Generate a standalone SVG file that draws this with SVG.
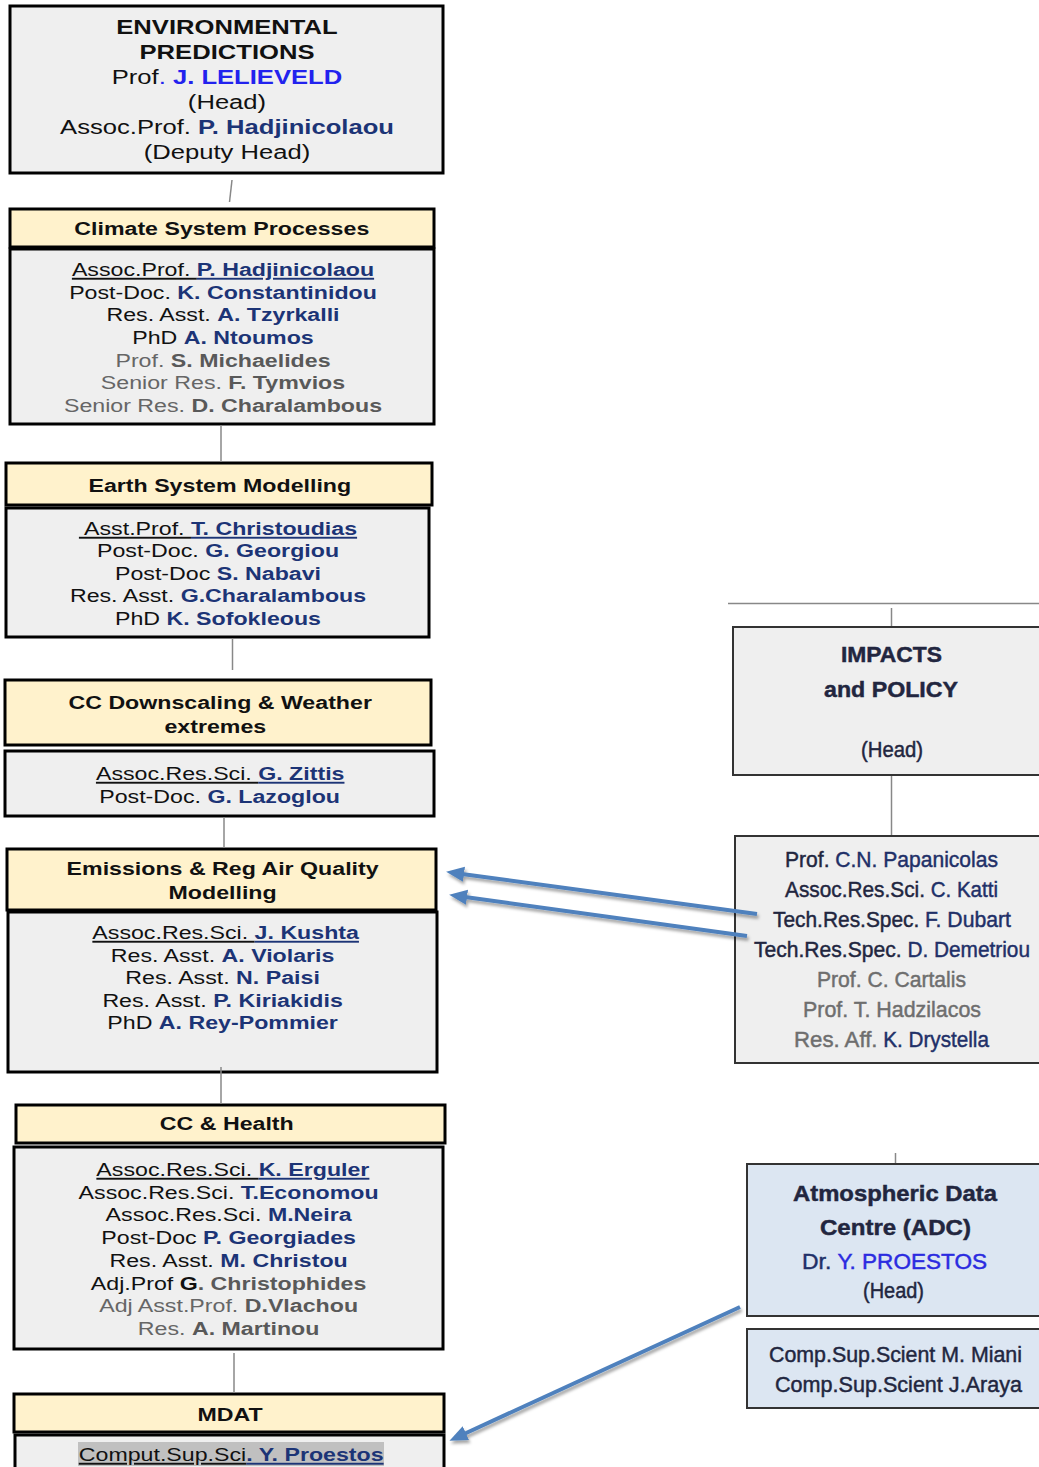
<svg xmlns="http://www.w3.org/2000/svg" width="1039" height="1467" viewBox="0 0 1039 1467">
<defs>
<style>
.box{fill:#efefef;stroke:#000;stroke-width:3}
.hdr{fill:#fff2cc;stroke:#000;stroke-width:3}
.rbox{fill:#efefef;stroke:#333;stroke-width:2}
.bbox{fill:#dce6f2;stroke:#333;stroke-width:2}
.t{font-family:"Liberation Sans",Arial,sans-serif;font-size:19px;fill:#111;text-anchor:middle}
.big{font-size:21px}
.b{font-weight:bold}
.n{font-weight:bold;fill:#1c3476}
.g{fill:#666}
.gb{fill:#595959;font-weight:bold}
.u{text-decoration:underline}
.r{font-family:"Liberation Sans",Arial,sans-serif;font-size:22px;fill:#22263f;stroke:#22263f;stroke-width:0.45}
.rn{fill:#1f3068;stroke:#1f3068}
.rg{fill:#6e6e6e;stroke:#6e6e6e}
.rbl{fill:#2b2be0;stroke:#2b2be0}
.link{stroke:#888;stroke-width:1.5;fill:none}
.arr{stroke:#4f81bd;stroke-width:4;fill:none;marker-end:url(#ah);filter:url(#sh)}
</style>
<marker id="ah" markerUnits="userSpaceOnUse" markerWidth="20" markerHeight="16" refX="2" refY="7.5" orient="auto">
<path d="M0,0 L18,7.5 L0,15 z" fill="#4f81bd"/>
</marker>
<filter id="sh" filterUnits="userSpaceOnUse" x="0" y="0" width="1039" height="1467">
<feDropShadow dx="1.5" dy="3" stdDeviation="1.8" flood-color="#000" flood-opacity="0.35"/>
</filter>
</defs>
<rect width="1039" height="1467" fill="#fff"/>

<g id="env-pred">
<rect class="box" x="10" y="6" width="433" height="167"/>
<g transform="translate(227 0) scale(1.22 1) translate(-227 0)">
<text class="t big b" x="227" y="34">ENVIRONMENTAL</text>
<text class="t big b" x="227" y="59">PREDICTIONS</text>
<text class="t big" x="227" y="84">Prof<tspan fill="#2222ee">. </tspan><tspan fill="#2222ee" font-weight="bold">J. LELIEVELD</tspan></text>
<text class="t big" x="227" y="109">(Head)</text>
<text class="t big" x="227" y="134">Assoc.Prof. <tspan class="n">P. Hadjinicolaou</tspan></text>
<text class="t big" x="227" y="159">(Deputy Head)</text>
</g>
</g>

<g id="climate">
<rect class="hdr" x="10" y="209" width="424" height="38"/>
<rect class="box" x="10" y="249" width="424" height="175"/>
<g transform="translate(223 0) scale(1.22 1) translate(-223 0)">
<text class="t b" x="222" y="235">Climate System Processes</text>
<text class="t" x="223" y="276"><tspan class="u">Assoc.Prof. </tspan><tspan class="n u">P. Hadjinicolaou</tspan></text>
<text class="t" x="223" y="299">Post-Doc. <tspan class="n">K. Constantinidou</tspan></text>
<text class="t" x="223" y="321.5">Res. Asst. <tspan class="n">A. Tzyrkalli</tspan></text>
<text class="t" x="223" y="344">PhD <tspan class="n">A. Ntoumos</tspan></text>
<text class="t g" x="223" y="367">Prof. <tspan class="gb">S. Michaelides</tspan></text>
<text class="t g" x="223" y="389">Senior Res. <tspan class="gb">F. Tymvios</tspan></text>
<text class="t g" x="223" y="412">Senior Res. <tspan class="gb">D. Charalambous</tspan></text>
</g>
</g>

<g id="earth">
<rect class="hdr" x="6" y="463" width="426" height="42"/>
<rect class="box" x="6" y="508" width="423" height="129"/>
<g transform="translate(218 0) scale(1.22 1) translate(-218 0)">
<text class="t b" x="219.5" y="492">Earth System Modelling</text>
<text class="t" x="218" y="535" xml:space="preserve"><tspan class="u"> Asst.Prof. </tspan><tspan class="n u">T. Christoudias</tspan></text>
<text class="t" x="218" y="557.5">Post-Doc. <tspan class="n">G. Georgiou</tspan></text>
<text class="t" x="218" y="580">Post-Doc <tspan class="n">S. Nabavi</tspan></text>
<text class="t" x="218" y="602.5">Res. Asst. <tspan class="n">G.Charalambous</tspan></text>
<text class="t" x="218" y="625">PhD <tspan class="n">K. Sofokleous</tspan></text>
</g>
</g>

<g id="downscaling">
<rect class="hdr" x="5" y="680" width="426" height="65"/>
<rect class="box" x="5" y="751" width="429" height="65"/>
<g transform="translate(219 0) scale(1.22 1) translate(-219 0)">
<text class="t b" x="220" y="709">CC Downscaling &amp; Weather</text>
<text class="t b" x="216" y="733">extremes</text>
<text class="t" x="220" y="780"><tspan class="u">Assoc.Res.Sci. </tspan><tspan class="n u">G. Zittis</tspan></text>
<text class="t" x="219.5" y="803">Post-Doc. <tspan class="n">G. Lazoglou</tspan></text>
</g>
</g>

<g id="emissions">
<rect class="hdr" x="7" y="849" width="429" height="61"/>
<rect class="box" x="8" y="912" width="429" height="160"/>
<g transform="translate(222 0) scale(1.22 1) translate(-222 0)">
<text class="t b" x="222.5" y="875">Emissions &amp; Reg Air Quality</text>
<text class="t b" x="222.5" y="899">Modelling</text>
<text class="t" x="225" y="939"><tspan class="u">Assoc.Res.Sci. </tspan><tspan class="n u">J. Kushta</tspan></text>
<text class="t" x="222.5" y="962">Res. Asst. <tspan class="n">A. Violaris</tspan></text>
<text class="t" x="222.5" y="984.5">Res. Asst. <tspan class="n">N. Paisi</tspan></text>
<text class="t" x="222.5" y="1007">Res. Asst. <tspan class="n">P. Kiriakidis</tspan></text>
<text class="t" x="222.5" y="1029.5">PhD <tspan class="n">A. Rey-Pommier</tspan></text>
</g>
</g>

<g id="health">
<rect class="hdr" x="16" y="1105" width="429" height="38"/>
<rect class="box" x="14" y="1147" width="429" height="202"/>
<g transform="translate(228 0) scale(1.22 1) translate(-228 0)">
<text class="t b" x="227" y="1130">CC &amp; Health</text>
<text class="t" x="232" y="1176"><tspan class="u">Assoc.Res.Sci. </tspan><tspan class="n u">K. Erguler</tspan></text>
<text class="t" x="228.5" y="1199">Assoc.Res.Sci. <tspan class="n">T.Economou</tspan></text>
<text class="t" x="228.5" y="1221.5">Assoc.Res.Sci. <tspan class="n">M.Neira</tspan></text>
<text class="t" x="228.5" y="1244.5">Post-Doc <tspan class="n">P. Georgiades</tspan></text>
<text class="t" x="228.5" y="1267">Res. Asst. <tspan class="n">M. Christou</tspan></text>
<text class="t" x="228.5" y="1290">Adj.Prof <tspan font-weight="bold">G</tspan><tspan class="gb">. Christophides</tspan></text>
<text class="t g" x="228.5" y="1312.5">Adj Asst.Prof. <tspan class="gb">D.Vlachou</tspan></text>
<text class="t g" x="228.5" y="1335">Res. <tspan class="gb">A. Martinou</tspan></text>
</g>
</g>

<g id="mdat">
<rect class="hdr" x="14" y="1394" width="430" height="38"/>
<rect class="box" x="15" y="1435" width="429" height="40"/>
<rect x="78" y="1442" width="306" height="24" fill="#c0c0c0"/>
<g transform="translate(230 0) scale(1.22 1) translate(-230 0)">
<text class="t b" x="230" y="1421">MDAT</text>
<text class="t" x="231" y="1461"><tspan class="u">Comput.Sup.Sci</tspan><tspan class="n u">. Y. Proestos</tspan></text>
</g>
</g>

<g id="impacts">
<rect class="rbox" x="733" y="627" width="320" height="148"/>
<text class="r b" x="841" y="662" font-size="24" textLength="101" lengthAdjust="spacingAndGlyphs">IMPACTS</text>
<text class="r b" x="824" y="697" font-size="24" textLength="134" lengthAdjust="spacingAndGlyphs">and POLICY</text>
<text class="r" x="861" y="757" textLength="62" lengthAdjust="spacingAndGlyphs">(Head)</text>
</g>

<g id="impacts-staff">
<rect class="rbox" x="735" y="836" width="320" height="227"/>
<text class="r" x="785" y="867" textLength="44.5" lengthAdjust="spacingAndGlyphs">Prof.</text>
<text class="r rn" x="835.3" y="867" textLength="162.7" lengthAdjust="spacingAndGlyphs">C.N. Papanicolas</text>
<text class="r" x="785" y="897" textLength="140" lengthAdjust="spacingAndGlyphs">Assoc.Res.Sci.</text>
<text class="r rn" x="930.7" y="897" textLength="67.3" lengthAdjust="spacingAndGlyphs">C. Katti</text>
<text class="r" x="773" y="927" textLength="146.3" lengthAdjust="spacingAndGlyphs">Tech.Res.Spec.</text>
<text class="r rn" x="925" y="927" textLength="86" lengthAdjust="spacingAndGlyphs">F. Dubart</text>
<text class="r" x="754" y="957" textLength="147.6" lengthAdjust="spacingAndGlyphs">Tech.Res.Spec.</text>
<text class="r rn" x="907.4" y="957" textLength="122.6" lengthAdjust="spacingAndGlyphs">D. Demetriou</text>
<text class="r rg" x="817" y="987" textLength="149" lengthAdjust="spacingAndGlyphs">Prof. C. Cartalis</text>
<text class="r rg" x="803" y="1017" textLength="178" lengthAdjust="spacingAndGlyphs">Prof. T. Hadzilacos</text>
<text class="r rg" x="794" y="1047" textLength="83.5" lengthAdjust="spacingAndGlyphs">Res. Aff.</text>
<text class="r rn" x="883.2" y="1047" textLength="105.8" lengthAdjust="spacingAndGlyphs">K. Drystella</text>
</g>

<g id="adc">
<rect class="bbox" x="747" y="1164" width="310" height="152"/>
<text class="r b" x="793" y="1201" font-size="25" textLength="204" lengthAdjust="spacingAndGlyphs">Atmospheric Data</text>
<text class="r b" x="820" y="1235" font-size="25" textLength="151" lengthAdjust="spacingAndGlyphs">Centre (ADC)</text>
<text class="r rn" x="802" y="1269" font-size="23" textLength="29.3" lengthAdjust="spacingAndGlyphs">Dr.</text>
<text class="r rbl" x="837.4" y="1269" font-size="23" textLength="149.6" lengthAdjust="spacingAndGlyphs">Y. PROESTOS</text>
<text class="r" x="863" y="1298" textLength="61" lengthAdjust="spacingAndGlyphs">(Head)</text>
</g>

<g id="adc-staff">
<rect class="bbox" x="747" y="1329" width="310" height="79"/>
<text class="r" x="769" y="1362" textLength="253" lengthAdjust="spacingAndGlyphs">Comp.Sup.Scient M. Miani</text>
<text class="r" x="775" y="1392" textLength="247" lengthAdjust="spacingAndGlyphs">Comp.Sup.Scient J.Araya</text>
</g>

<g id="connectors">
<line class="link" x1="232" y1="180" x2="229.5" y2="202"/>
<line class="link" x1="221" y1="425" x2="221" y2="462"/>
<line class="link" x1="232.5" y1="638" x2="232.5" y2="670"/>
<line class="link" x1="224" y1="817" x2="224" y2="848"/>
<line class="link" x1="221" y1="1067" x2="221" y2="1104"/>
<line class="link" x1="234" y1="1353" x2="234" y2="1393"/>
<line class="link" x1="728" y1="603.5" x2="1039" y2="603.5"/>
<line class="link" x1="891.5" y1="608" x2="891.5" y2="626"/>
<line class="link" x1="891.5" y1="776" x2="891.5" y2="835"/>
<line class="link" x1="895.5" y1="1153" x2="895.5" y2="1163"/>
<line class="arr" x1="757" y1="914" x2="462" y2="874"/>
<line class="arr" x1="747" y1="936" x2="465" y2="897"/>
<line class="arr" x1="740" y1="1307" x2="464" y2="1434"/>
</g>
</svg>
